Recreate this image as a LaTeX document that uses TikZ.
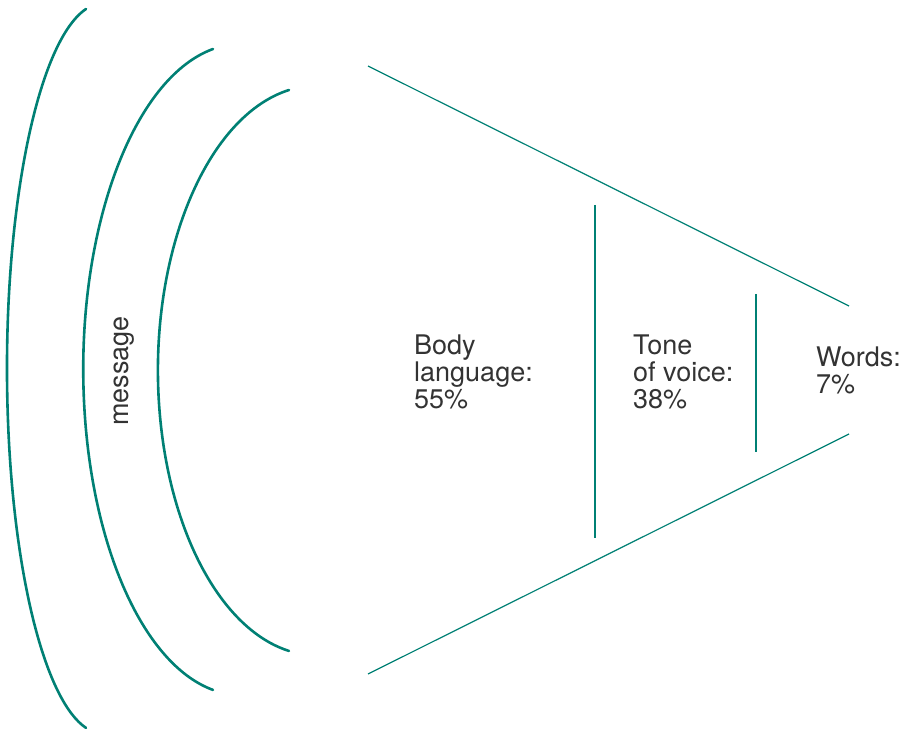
\documentclass[tikz,border=0pt]{standalone}
\usepackage{xcolor}
\usepackage{fontspec}
\setmainfont{TeX Gyre Heros}
\usepackage{tikz}
\usetikzlibrary{positioning}

\definecolor{teal}{RGB}{0,128,116}
\definecolor{inktext}{RGB}{51,51,51}

\begin{document}
\begin{tikzpicture}[
    x=1pt, y=1pt,
    every node/.style={inner sep=0pt, align=left, text=inktext, font=\fontsize{27}{27}\selectfont},
    wave/.style={draw=teal, line width=2.6pt, line cap=round},
    funnel/.style={draw=teal, line width=1.2pt}
]
\useasboundingbox (0,0) rectangle (909,729);

% sound waves
\draw[wave] (86,720) arc[start angle=100, end angle=260, x radius=95.6, y radius=365];
\draw[wave] (213,680) arc[start angle=100, end angle=260, x radius=157, y radius=325.4];
\draw[wave] (289,639) arc[start angle=100, end angle=260, x radius=158.6, y radius=284.8];

% funnel
\coordinate (topL) at (368,663);
\coordinate (topR) at (849,423);
\coordinate (botL) at (368,55);
\coordinate (botR) at (849,295);
\coordinate (cutA1) at (595,524);
\coordinate (cutA2) at (595,191);
\coordinate (cutB1) at (756,435);
\coordinate (cutB2) at (756,277);
\draw[funnel] (topL) -- (topR);
\draw[funnel] (botL) -- (botR);
\draw[funnel] (cutA1) -- (cutA2);
\draw[funnel] (cutB1) -- (cutB2);

\node[anchor=base, rotate=90] (message) at (128,358) {message};
\node[anchor=north west] (body) at (414,394.5) {Body\\language:\\55\%};
\node[anchor=north west] (tone) at (633,394.5) {Tone\\of voice:\\38\%};
\node[anchor=north west] (words) at (816,382.5) {Words:\\7\%};
\end{tikzpicture}
\end{document}
